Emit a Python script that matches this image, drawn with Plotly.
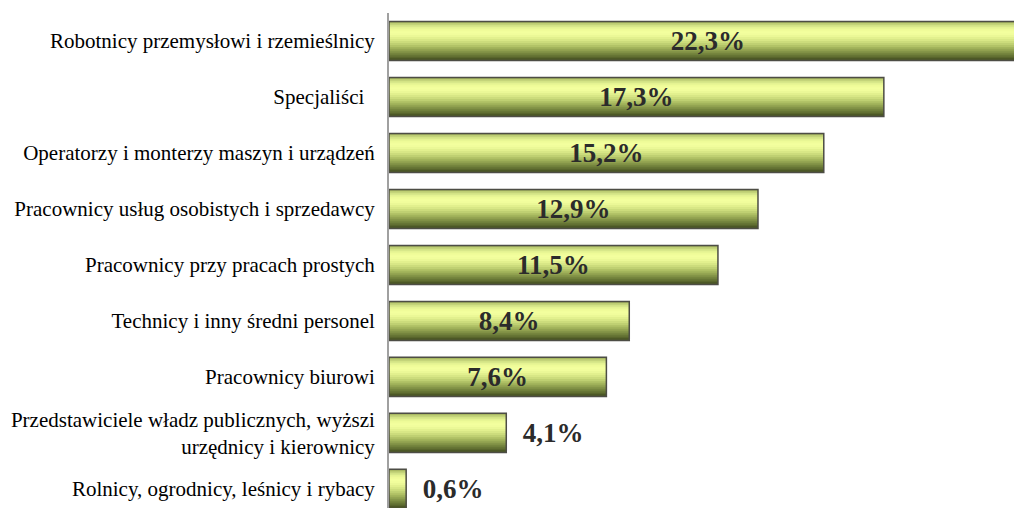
import plotly.graph_objects as go

categories = [
    "Robotnicy przemysłowi i rzemieślnicy",
    "Specjaliści\u00a0\u00a0",
    "Operatorzy i monterzy maszyn i urządzeń",
    "Pracownicy usług osobistych i sprzedawcy",
    "Pracownicy przy pracach prostych",
    "Technicy i inny średni personel",
    "Pracownicy biurowi",
    "Przedstawiciele władz publicznych, wyższi<br>urzędnicy i kierownicy",
    "Rolnicy, ogrodnicy, leśnicy i rybacy",
]
values = [22.3, 17.3, 15.2, 12.9, 11.5, 8.4, 7.6, 4.1, 0.6]
labels = ["22,3%", "17,3%", "15,2%", "12,9%", "11,5%", "8,4%", "7,6%", "4,1%", "0,6%"]
text_pos = ["inside"] * 7 + ["outside"] * 2

# vertical gradient of each bar, top -> bottom
stripe_colors = [
    "#a9b962", "#c4d47a", "#d8e88a", "#e8f694", "#f0fc9a", "#f3ff9e",
    "#f1fd9c", "#ebf897", "#e2f08e", "#d8e786", "#ccdc7c", "#bfd072",
    "#b2c367", "#a3b55c", "#94a552", "#849548", "#75853e", "#667535",
    "#58652c", "#4c5826",
]

SERIF = "Liberation Serif, Times New Roman, serif"
bar_w = 0.7
n = len(stripe_colors)
sw = bar_w / n

fig = go.Figure()
for i, c in enumerate(stripe_colors):
    fig.add_trace(go.Bar(
        x=values, y=categories, orientation="h",
        width=bar_w - i * sw, offset=-bar_w / 2 + i * sw,
        marker=dict(color=c, line=dict(width=0)),
        hoverinfo="skip", showlegend=False,
    ))

# outline + labels
fig.add_trace(go.Bar(
    x=values, y=categories, orientation="h",
    width=bar_w, offset=-bar_w / 2,
    marker=dict(color="rgba(0,0,0,0)", line=dict(color="#4d4d45", width=1.5)),
    text=["  " + t if p == "outside" else t for t, p in zip(labels, text_pos)],
    textposition=text_pos, insidetextanchor="middle", constraintext="none",
    textfont=dict(family=SERIF, size=27, color="#2b2b2b", weight="bold"),
    showlegend=False,
))

fig.update_layout(
    width=1014, height=508,
    barmode="overlay",
    plot_bgcolor="white", paper_bgcolor="white",
    margin=dict(l=389, r=0, t=13, b=0),
    font=dict(family=SERIF, size=21, color="black"),
)
fig.update_xaxes(range=[0, 21.85], visible=False)
fig.update_yaxes(
    type="category", range=[8.34, -0.5],
    showline=True, linecolor="#a0a0a0", linewidth=2,
    showgrid=False, ticks="", ticklabelstandoff=8,
    tickfont=dict(family=SERIF, size=21, color="black"),
)

fig.write_html("out.html", config={"displayModeBar": False},
               post_script="document.body.style.margin='0';document.body.style.overflow='hidden';")
